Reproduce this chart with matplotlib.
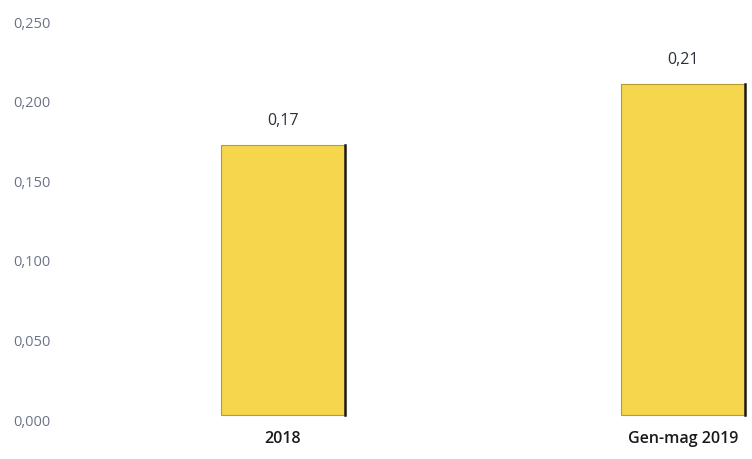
import numpy as np
from matplotlib import pyplot as plt
from matplotlib.ticker import FuncFormatter

categories = ['2018', 'Gen-mag 2019']
values = [0.17, 0.208]
value_labels = ['0,17', '0,21']
y_ticks = [0.0, 0.05, 0.10, 0.15, 0.20, 0.25]

plt.rcParams['font.family'] = ['Open Sans', 'DejaVu Sans']

fig = plt.figure(figsize=(7.52, 4.59), dpi=100)
ax = fig.add_axes([70 / 752, 39 / 459, 682 / 752, 398 / 459])

x = np.arange(len(categories))
bars = ax.bar(x, values, width=0.31, bottom=0.003, color='#f5d64c',
              edgecolor='#b59a3a', linewidth=0.8)

# dark shadow on the right side of each bar
for b in bars:
    xr = b.get_x() + b.get_width()
    ax.plot([xr, xr], [b.get_y(), b.get_y() + b.get_height()], color='#1a1a1a', linewidth=1.8)

for b, lab in zip(bars, value_labels):
    ax.text(b.get_x() + b.get_width() / 2, b.get_y() + b.get_height() + 0.01, lab,
            ha='center', va='bottom', fontsize=11.5, color='#2a2f3a')

ax.set_xlim(-0.5325, 1.1725)
ax.set_ylim(0, 0.25)
ax.set_yticks(y_ticks)
ax.yaxis.set_major_formatter(FuncFormatter(lambda v, p: '{:.3f}'.format(v).replace('.', ',')))
ax.set_xticks(x)
ax.set_xticklabels(categories, fontsize=11.5, color='#1a1a1a', fontweight='semibold')
ax.tick_params(axis='y', length=0, pad=14, labelsize=10.5, labelcolor='#6a7488')
ax.tick_params(axis='x', length=0, pad=8)
for s in ax.spines.values():
    s.set_visible(False)

fig.savefig('out.png', dpi=100)
